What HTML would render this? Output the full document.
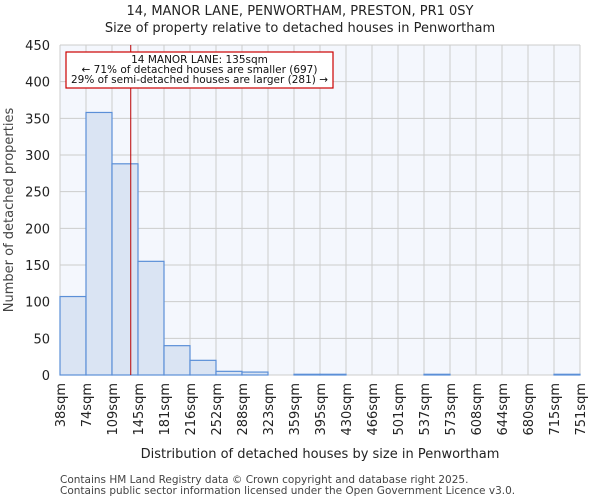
<!DOCTYPE html>
<html><head><meta charset="utf-8"><style>
body{margin:0;background:#fff;font-family:"DejaVu Sans","Liberation Sans",sans-serif}
</style></head><body>
<svg id="c" width="600" height="500" xmlns="http://www.w3.org/2000/svg" font-family="DejaVu Sans, Liberation Sans, sans-serif"></svg>
<script>
const binLabels=["38sqm","74sqm","109sqm","145sqm","181sqm","216sqm","252sqm","288sqm","323sqm","359sqm","395sqm","430sqm","466sqm","501sqm","537sqm","573sqm","608sqm","644sqm","680sqm","715sqm","751sqm"];
const counts=[107,358,288,155,40,20,5,4,0,1,1,0,0,0,1,0,0,0,0,1];
const yTicks=[0,50,100,150,200,250,300,350,400,450];
const binStart=38, binWidth=35.65, subjectSize=135;
const svg=document.getElementById('c');const NS='http://www.w3.org/2000/svg';
const X0=60,X1=580,Y0=375,Y1=45,yMax=450;
const bw=(X1-X0)/counts.length;
const x=i=>X0+i*bw;
const xv=v=>X0+(v-binStart)/binWidth*bw;
const y=v=>Y0-(v/yMax)*(Y0-Y1);
function el(t,a,txt){const e=document.createElementNS(NS,t);for(const k in a)e.setAttribute(k,a[k]);if(txt!==undefined)e.textContent=txt;svg.appendChild(e);return e;}
let e;
e=el('rect',{x:X0,y:Y1,width:X1-X0,height:Y0-Y1,fill:'#f4f7fd'});


yTicks.forEach(t=>{
 e=el('line',{x1:X0,x2:X1,y1:y(t),y2:y(t),stroke:'#cccccc','stroke-width':1});
 
 
 e=el('text',{x:X0-10,y:y(t)+5,'text-anchor':'end','font-size':13,fill:'#222'},t);
 
 
});
binLabels.forEach((l,i)=>{
 e=el('line',{x1:x(i),x2:x(i),y1:Y1,y2:Y0,stroke:'#cccccc','stroke-width':1});
 
 
 e=el('text',{transform:`translate(${x(i)+5},383) rotate(-90)`,'text-anchor':'end','font-size':13,fill:'#222'},l);
 
 
});
counts.forEach((c,i)=>{
 if(c<=0)return;
 e=el('rect',{x:x(i),y:y(c),width:bw,height:Y0-y(c),fill:'#dae4f3',stroke:'#5b8fd7','stroke-width':1.2});
 
 
});
e=el('line',{x1:xv(subjectSize),x2:xv(subjectSize),y1:Y1,y2:Y0,stroke:'#bb0000','stroke-width':1});


e=el('rect',{x:66,y:52,width:267,height:36,fill:'#fff',stroke:'#cc0000','stroke-width':1.2});


[["14 MANOR LANE: 135sqm",63],["← 71% of detached houses are smaller (697)",73],["29% of semi-detached houses are larger (281) →",83]].forEach(([t,yy])=>{
 e=el('text',{x:199.5,y:yy,'text-anchor':'middle','font-size':10.5,fill:'#111'},t);
 
 
});
e=el('text',{x:300,y:15,'text-anchor':'middle','font-size':13,fill:'#222'},'14, MANOR LANE, PENWORTHAM, PRESTON, PR1 0SY');


e=el('text',{x:300,y:32,'text-anchor':'middle','font-size':13,fill:'#222'},'Size of property relative to detached houses in Penwortham');


e=el('text',{x:320,y:458,'text-anchor':'middle','font-size':13,fill:'#222'},'Distribution of detached houses by size in Penwortham');


e=el('text',{transform:'translate(13,210) rotate(-90)','text-anchor':'middle','font-size':13,fill:'#444'},'Number of detached properties');


e=el('text',{x:60,y:483,'font-size':10.5,fill:'#444'},'Contains HM Land Registry data © Crown copyright and database right 2025.');


e=el('text',{x:60,y:494,'font-size':10.5,fill:'#444'},'Contains public sector information licensed under the Open Government Licence v3.0.');


</script>
</body></html>
